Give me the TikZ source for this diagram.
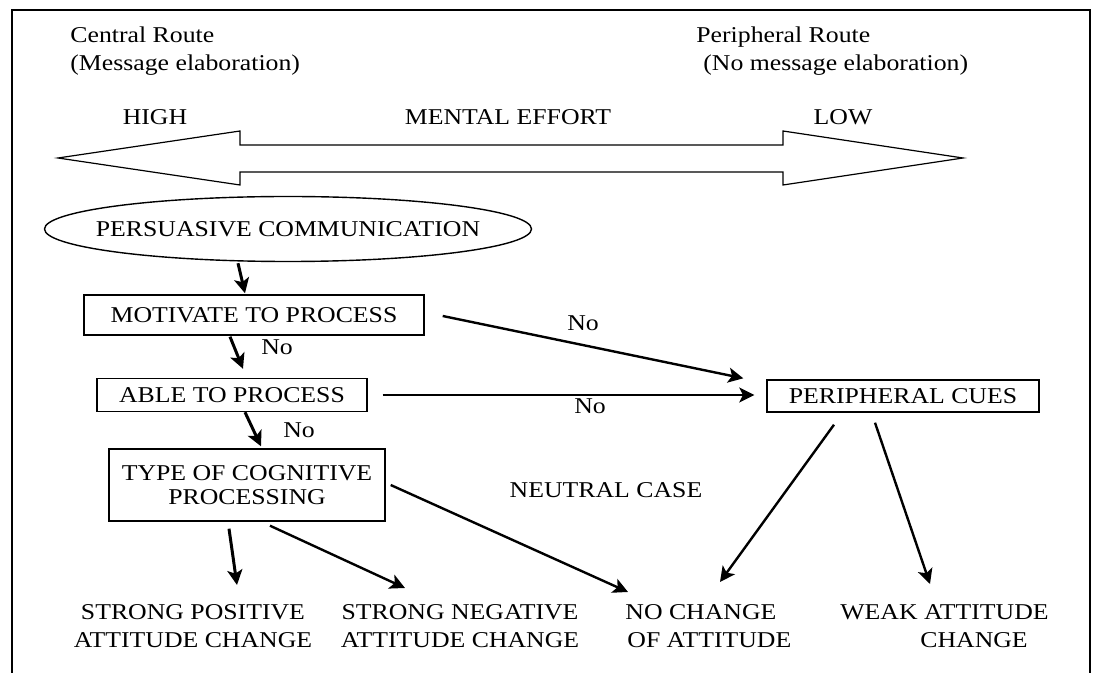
\documentclass[tikz,border=0pt]{standalone}
\usepackage{fontspec}
\setmainfont{Liberation Serif}[FakeStretch=1.14]
\usetikzlibrary{arrows.meta, shapes.geometric, calc}

\begin{document}
\begin{tikzpicture}[x=0.5pt, y=-0.5pt, font=\fontsize{11.3}{14}\selectfont,
    box/.style={draw, line width=0.7pt, inner sep=0pt},
    lbl/.style={inner sep=0pt, align=center},
    flow/.style={-{Stealth[length=7.5pt, width=7.5pt, inset=1.8pt]}, line width=1.2pt},
    heavy/.style={flow, line width=1.5pt}]
  \useasboundingbox (0,0) rectangle (1099,673);
  % frame (open at the bottom)
  \draw[line width=0.8pt] (12,673) -- (12,10) -- (1090,10) -- (1090,673);

  % routes and mental effort
  \node[lbl, anchor=base west] (central) at (70,43) {Central Route};
  \node[lbl, anchor=base west] (elab) at (70,71) {(Message elaboration)};
  \node[lbl, anchor=base west] (periph) at (696,43) {Peripheral Route};
  \node[lbl, anchor=base west] (noelab) at (703,71) {(No message elaboration)};
  \node[lbl, anchor=base] (high) at (155,125) {HIGH};
  \node[lbl, anchor=base] (effort) at (508,125) {MENTAL EFFORT};
  \node[lbl, anchor=base] (low) at (843,125) {LOW};
  \draw[line width=0.6pt] (58,158) -- (240,131) -- (240,145) -- (783,145) -- (783,131) -- (963,158)
    -- (783,185) -- (783,172) -- (240,172) -- (240,185) -- cycle;

  % flow chart
  \node[draw, ellipse, line width=0.7pt, minimum width=243.5pt, minimum height=32.5pt, inner sep=0pt,
    label=center:PERSUASIVE COMMUNICATION] (pc) at (288,229) {};
  \node[box, minimum width=170pt, minimum height=20pt] (mot) at (254,315) {MOTIVATE TO PROCESS};
  \node[box, minimum width=135pt, minimum height=16.5pt] (able) at (232,395) {ABLE TO PROCESS};
  \node[box, minimum width=138pt, minimum height=36pt, align=center] (type) at (247,485) {TYPE OF COGNITIVE\\[-2pt]PROCESSING};
  \node[box, minimum width=136pt, minimum height=16pt] (cues) at (903,396) {PERIPHERAL CUES};

  \node[lbl, anchor=base] (no1) at (277,355) {No};
  \node[lbl, anchor=base] (no2) at (299,438) {No};
  \node[lbl, anchor=base] (no3) at (583,331) {No};
  \node[lbl, anchor=base] (no4) at (590,414) {No};
  \node[lbl, anchor=base] (neutral) at (606,498) {NEUTRAL CASE};

  % outcomes
  \node[lbl, anchor=north] (pos) at (193,604) {STRONG POSITIVE\\ATTITUDE CHANGE};
  \node[lbl, anchor=north] (neg) at (460,604) {STRONG NEGATIVE\\ATTITUDE CHANGE};
  \node[lbl, anchor=north west, align=left] (nochg) at (625,604) {NO CHANGE\\\hspace*{1pt}OF ATTITUDE};
  \node[lbl, anchor=north west, align=left] (weak) at (840,604) {WEAK ATTITUDE\\\hspace*{40pt}CHANGE};

  \draw[heavy] ($(pc.south)+(-50,1)$) -- ($(mot.north)+(-9,-1)$);
  \draw[heavy] ($(mot.south)+(-24,1)$) -- ($(able.north)+(11,-9)$);
  \draw[heavy] ($(able.south)+(13,0)$) -- ($(type.north)+(14,-2)$);
  \draw[flow] ($(mot.east)+(18,1)$) -- ($(cues.north west)+(-23,-1)$);
  \draw[flow] ($(able.east)+(15,0)$) -- ($(cues.west)+(-12,-1)$);
  \draw[heavy] ($(type.south)+(-18,7)$) -- ($(pos.north)+(44,-19)$);
  \draw[flow] ($(type.south)+(23,4)$) -- ($(neg.north)+(-55,-16)$);
  \draw[flow] ($(type.east)+(5,0)$) -- ($(nochg.north west)+(3,-12)$);
  \draw[flow] ($(cues.south)+(-69,12)$) -- ($(nochg.north west)+(95,-22)$);
  \draw[flow] ($(cues.south)+(-28,10)$) -- ($(weak.north west)+(90,-20)$);
\end{tikzpicture}
\end{document}
